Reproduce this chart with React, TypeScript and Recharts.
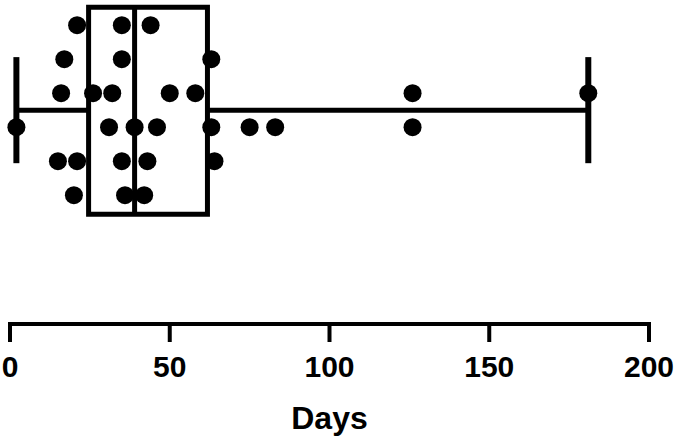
import { ScatterChart, Scatter, XAxis, YAxis, ReferenceArea, ReferenceLine, Label } from 'recharts'

document.body.style.margin = '0'

const FONT = '"Liberation Sans", Arial, Helvetica, sans-serif'

const X_TICKS = [0, 50, 100, 150, 200]

// beeswarm lanes, top to bottom (days)
const LANE_1 = [21, 35, 44]
const LANE_2 = [17, 35, 63]
const LANE_3 = [16, 26, 32, 50, 58, 126, 181]
const LANE_4 = [2, 31, 39, 46, 63, 75, 83, 126]
const LANE_5 = [15, 21, 35, 43, 64]
const LANE_6 = [20, 36, 42]
const LANES = [LANE_1, LANE_2, LANE_3, LANE_4, LANE_5, LANE_6]

// box summary
const MIN_DAYS = 2
const Q1_DAYS = 24.6
const MEDIAN_DAYS = 39
const Q3_DAYS = 61.8
const MAX_DAYS = 181

// vertical layout in lane units (whisker at 0)
const BOX_TOP = 3.03
const BOX_BOTTOM = -3.06
const CAP_HALF = 1.56
const Y_DOMAIN: [number, number] = [-6.29, 3.24]

const points = LANES.flatMap((lane, i) =>
  lane.map((days) => ({ days, lane: (LANES.length - 1) / 2 - i }))
)

const black = '#000'

function DayTick({ x, y, payload }: any) {
  return (
    <text x={x} y={y} dy={35} textAnchor="middle" fontFamily={FONT} fontWeight={700} fontSize={30} fill={black}>
      {payload.value}
    </text>
  )
}

function Dot({ cx, cy }: any) {
  return <circle cx={cx} cy={cy} r={9} fill={black} />
}

export default function App() {
  return (
    <ScatterChart width={676} height={444} margin={{ top: 0, right: 27, left: 10, bottom: 0 }}>
      <XAxis
        type="number"
        dataKey="days"
        domain={[0, 200]}
        ticks={X_TICKS}
        height={120}
        tickSize={18}
        tickMargin={0}
        tick={<DayTick />}
        axisLine={{ stroke: black, strokeWidth: 4, strokeLinecap: 'square' }}
        tickLine={{ stroke: black, strokeWidth: 4 }}
      >
        <Label value="Days" position="insideBottom" offset={15} fontFamily={FONT} fontWeight={700} fontSize={32} fill={black} />
      </XAxis>
      <YAxis type="number" dataKey="lane" domain={Y_DOMAIN} allowDataOverflow hide />
      <ReferenceArea
        x1={Q1_DAYS}
        x2={Q3_DAYS}
        y1={BOX_BOTTOM}
        y2={BOX_TOP}
        fill="none"
        fillOpacity={0}
        stroke={black}
        strokeWidth={5}
      />
      <ReferenceLine segment={[{ x: MEDIAN_DAYS, y: BOX_BOTTOM }, { x: MEDIAN_DAYS, y: BOX_TOP }]} stroke={black} strokeWidth={5} />
      <ReferenceLine segment={[{ x: MIN_DAYS, y: 0 }, { x: Q1_DAYS, y: 0 }]} stroke={black} strokeWidth={5} />
      <ReferenceLine segment={[{ x: Q3_DAYS, y: 0 }, { x: MAX_DAYS, y: 0 }]} stroke={black} strokeWidth={5} />
      <ReferenceLine segment={[{ x: MIN_DAYS, y: -CAP_HALF }, { x: MIN_DAYS, y: CAP_HALF }]} stroke={black} strokeWidth={6} />
      <ReferenceLine segment={[{ x: MAX_DAYS, y: -CAP_HALF }, { x: MAX_DAYS, y: CAP_HALF }]} stroke={black} strokeWidth={6} />
      <Scatter data={points} dataKey="lane" fill={black} shape={<Dot />} isAnimationActive={false} />
    </ScatterChart>
  )
}
